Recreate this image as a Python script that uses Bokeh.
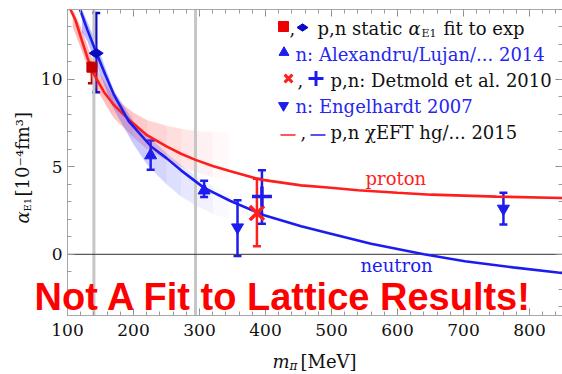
import numpy as np
from bokeh.plotting import figure
from bokeh.models import (Range1d, LinearAxis, Label, Whisker, TeeHead,
                          ColumnDataSource, SingleIntervalTicker, CustomLabelingPolicy)
from bokeh.embed import file_html
from bokeh.resources import INLINE

# ---------------- data ----------------
proton_m = [104.5, 112, 122, 131, 140, 155, 170, 193, 221, 250, 272, 294, 320, 347,
            393, 454, 499, 540, 600, 651, 750, 850]
proton_v = [14.0, 13.4, 12.2, 11.15, 10.3, 9.3, 8.55, 7.7, 6.8, 6.17, 5.75, 5.4, 5.05,
            4.75, 4.27, 3.94, 3.81, 3.66, 3.52, 3.41, 3.3, 3.22]
neutron_m = [119, 130, 144, 157, 170, 193, 227, 250, 272, 307, 347, 398, 454, 499,
             560, 640, 702, 775, 850]
neutron_v = [14.0, 12.85, 11.5, 10.3, 9.15, 7.6, 6.15, 5.5, 4.8, 3.8, 3.05, 2.23, 1.6,
             1.18, 0.6, 0.0, -0.4, -0.75, -1.07]

# uncertainty bands (fade out towards larger pion masses)
p_band_m = [108, 120, 140, 170, 200, 221, 250, 272, 294, 320, 345]
p_band_hi = [14.0, 13.0, 10.9, 9.0, 8.1, 7.66, 7.35, 7.18, 7.05, 6.98, 6.95]
p_band_lo = [13.0, 11.8, 9.7, 7.8, 6.7, 6.0, 5.4, 5.0, 4.7, 4.4, 4.2]
n_band_m = [122, 130, 140, 170, 200, 221, 250, 272, 294, 320, 345]
n_band_hi = [14.0, 13.3, 12.4, 9.4, 7.6, 6.8, 5.8, 5.1, 4.5, 3.9, 3.5]
n_band_lo = [12.7, 12.2, 11.2, 8.3, 6.3, 5.1, 4.0, 3.3, 2.8, 2.3, 2.0]
band_alpha = [0.35, 0.35, 0.33, 0.3, 0.27, 0.22, 0.17, 0.12, 0.07, 0.03]

static_p_m, static_p_v, static_p_lo, static_p_hi = [137], [10.7], [9.78], [10.95]
static_n_m, static_n_v, static_n_lo, static_n_hi = [143.5], [11.5], [9.27], [13.8]
alex_m, alex_v, alex_lo, alex_hi = [226, 307], [5.66, 3.65], [4.84, 3.28], [6.51, 4.2]
engel_m, engel_v, engel_lo, engel_hi = [357.6, 760.5], [1.54, 2.61], [-0.1, 1.71], [3.09, 3.52]
detp_m, detp_v, detp_lo, detp_hi = [387], [2.36], [0.46], [4.32]
detn_m, detn_v, detn_lo, detn_hi = [394.6], [3.31], [1.75], [4.8]

mark_lines = [140, 294]
XMIN, XMAX, YMIN, YMAX = 100, 850, -3.5, 14
x_tick_step, y_tick_step = 100, 5

# ---------------- layout ----------------
W, H = 562, 374
BOX_L, BOX_R, BOX_T, BOX_B = 67, 562, 9, 315   # plot box inside the canvas
kx = (XMAX - XMIN) / (BOX_R - BOX_L)
ky = (YMAX - YMIN) / (BOX_B - BOX_T)

def X(px):  # canvas pixel -> data x
    return XMIN + (px - BOX_L) * kx

def Y(py):  # canvas pixel -> data y
    return YMAX - (py - BOX_T) * ky

RED = "#ff1e1e"
BLUE = "#1c1cee"
DRED = "#c40000"
DBLUE = "#0a0ac4"
SERIF = "DejaVu Serif"
AX = "#a8a8a8"

p = figure(width=W, height=H, output_backend="svg", toolbar_location=None,
           x_range=Range1d(X(0), X(W)), y_range=Range1d(Y(H), Y(0)),
           min_border_left=0, min_border_right=0, min_border_top=0, min_border_bottom=0)
p.grid.visible = False
p.background_fill_color = "white"
p.border_fill_color = "white"
p.outline_line_color = None

no_labels = CustomLabelingPolicy(code="for (const i of []) { yield i }")

def style_axis(ax, labels=True, standoff=5):
    ax.axis_line_color = AX
    ax.major_tick_in = 7
    ax.major_tick_out = 0
    ax.minor_tick_in = 4
    ax.minor_tick_out = 0
    ax.major_tick_line_color = "#8a8a8a"
    ax.minor_tick_line_color = "#9a9a9a"
    if labels:
        ax.major_label_text_font = SERIF
        ax.major_label_text_font_size = "17px"
        ax.major_label_text_color = "#111111"
        ax.major_label_standoff = standoff
    else:
        ax.major_label_policy = no_labels
        ax.major_label_text_font_size = "0px"
        ax.major_label_standoff = 0

bx = p.xaxis[0]
ly = p.yaxis[0]
bx.ticker = SingleIntervalTicker(interval=x_tick_step, num_minor_ticks=5)
ly.ticker = SingleIntervalTicker(interval=y_tick_step, num_minor_ticks=5)
bx.bounds = (XMIN, XMAX)
ly.bounds = (YMIN, YMAX)
bx.fixed_location = YMIN
ly.fixed_location = XMIN
style_axis(bx, True, 8)
style_axis(ly, True, 5)

top = LinearAxis(ticker=SingleIntervalTicker(interval=x_tick_step, num_minor_ticks=5),
                 bounds=(XMIN, XMAX), fixed_location=YMAX)
right = LinearAxis(ticker=SingleIntervalTicker(interval=y_tick_step, num_minor_ticks=5),
                   bounds=(YMIN, YMAX), fixed_location=XMAX)
style_axis(top, False)
style_axis(right, False)
p.add_layout(top, "above")
p.add_layout(right, "right")

# bands (fading)
for i in range(len(p_band_m) - 1):
    p.varea(x=p_band_m[i:i + 2], y1=p_band_lo[i:i + 2], y2=p_band_hi[i:i + 2],
            fill_color="#ff3a3a", fill_alpha=band_alpha[i])
for i in range(len(n_band_m) - 1):
    p.varea(x=n_band_m[i:i + 2], y1=n_band_lo[i:i + 2], y2=n_band_hi[i:i + 2],
            fill_color="#3a3aff", fill_alpha=band_alpha[i])

# reference lines
p.segment(x0=mark_lines, y0=[YMIN] * len(mark_lines), x1=mark_lines, y1=[YMAX] * len(mark_lines),
          line_color="#c6c6c6", line_width=3)
p.segment(x0=[XMIN], y0=[0], x1=[XMAX], y1=[0], line_color="#333333", line_width=1)

p.line(proton_m, proton_v, line_color=RED, line_width=2.6)
p.line(neutron_m, neutron_v, line_color=BLUE, line_width=2.6)

def errbars(m, lo, hi, color, lw=2.5):
    src = ColumnDataSource(dict(x=m, lo=lo, hi=hi))
    w = Whisker(source=src, base="x", lower="lo", upper="hi", dimension="height",
                line_color=color, line_width=lw,
                upper_head=TeeHead(size=8, line_color=color, line_width=lw),
                lower_head=TeeHead(size=8, line_color=color, line_width=lw))
    p.add_layout(w)

errbars(static_p_m, static_p_lo, static_p_hi, DRED)
errbars(static_n_m, static_n_lo, static_n_hi, DBLUE)
errbars(alex_m, alex_lo, alex_hi, BLUE)
errbars(engel_m, engel_lo, engel_hi, BLUE)
errbars(detp_m, detp_lo, detp_hi, RED)
errbars(detn_m, detn_lo, detn_hi, BLUE)

p.scatter(static_p_m, static_p_v, marker="square", size=10, fill_color=DRED, line_color=DRED)
p.scatter(static_n_m, static_n_v, marker="diamond", size=14, angle=np.pi / 2,
          fill_color=DBLUE, line_color=DBLUE)
p.scatter(alex_m, alex_v, marker="triangle", size=12, fill_color=BLUE, line_color=BLUE)
p.scatter(engel_m, engel_v, marker="inverted_triangle", size=12, fill_color=BLUE, line_color=BLUE)
p.scatter(detp_m, detp_v, marker="x", size=20, line_color=RED, line_width=3.5)
p.scatter(detn_m, detn_v, marker="cross", size=20, line_color=BLUE, line_width=3.5)

SHIFT = 0.28  # the renderer places alphabetic baselines ~0.28em low

def lab(px, py, text, size=18, color="#111111", font=SERIF, style="normal",
        align="left", angle=0.0):
    if angle == 0:
        py = py - SHIFT * size
    else:
        px = px - SHIFT * size
    p.add_layout(Label(x=X(px), y=Y(py), text=text, text_font=font,
                       text_font_size=f"{size}px", text_color=color, text_font_style=style,
                       text_align=align, text_baseline="alphabetic", angle=angle))

# curve names
lab(365, 183, "proton", color=RED)
lab(360, 270, "neutron", color=BLUE)

# legend
LBLUE = "#2626f0"
p.scatter([X(283)], [Y(26)], marker="square", size=10, fill_color="#ee0000", line_color="#ee0000")
lab(289, 33, ",")
p.scatter([X(302)], [Y(27)], marker="diamond", size=11, angle=np.pi / 2,
          fill_color=DBLUE, line_color=DBLUE)
lab(317, 33, "p,n static")
lab(408, 33, "α", style="italic")
lab(421, 36, "E1", size=11)
lab(443, 33, "fit to exp")

p.scatter([X(283.5)], [Y(52)], marker="triangle", size=10, fill_color=BLUE, line_color=BLUE)
lab(295, 59, "n: Alexandru/Lujan/... 2014", color=LBLUE)

p.scatter([X(288)], [Y(78)], marker="x", size=11, line_color=RED, line_width=3)
lab(297, 85, ",")
p.scatter([X(315.5)], [Y(78)], marker="cross", size=15, line_color=BLUE, line_width=3)
lab(330, 85, "p,n: Detmold et al. 2010")

p.scatter([X(283)], [Y(105)], marker="inverted_triangle", size=10, fill_color=BLUE, line_color=BLUE)
lab(295, 111, "n: Engelhardt 2007", color=LBLUE)

p.line([X(280), X(295)], [Y(134.5), Y(134.5)], line_color=RED, line_width=1.5)
lab(300, 137, ",")
p.line([X(310), X(325)], [Y(134.5), Y(134.5)], line_color=BLUE, line_width=1.5)
lab(330, 137, "p,n χEFT hg/... 2015")

# axis labels
lab(27, 223, "α", size=18, style="italic", angle=np.pi / 2)
lab(30, 211, "E1", size=10, angle=np.pi / 2)
lab(27, 196, "[10⁻⁴fm³]", size=18, angle=np.pi / 2)
lab(272, 366, "m", size=18, style="italic")
lab(289, 369, "π", size=12, style="italic")
lab(300, 366, "[MeV]", size=18)

# big warning text
lab(34, 307, "Not A Fit to Lattice Results!", size=38, color="#ff0000",
    font="Liberation Sans", style="bold")

open("out.html", "w").write(file_html(p, INLINE))
